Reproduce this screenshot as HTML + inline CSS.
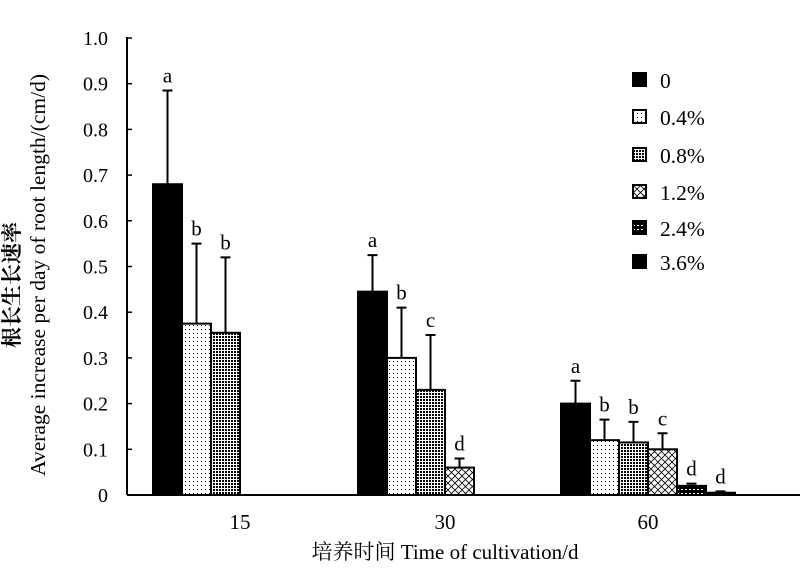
<!DOCTYPE html>
<html><head><meta charset="utf-8"><style>
body{margin:0;background:#fff}
svg text{font-family:"Liberation Serif","Noto Serif CJK SC",serif;fill:#000}
</style></head><body>
<svg id="chart" width="800" height="568" viewBox="0 0 800 568" xmlns="http://www.w3.org/2000/svg">
<defs>
<pattern id="p1" width="4" height="4" patternUnits="userSpaceOnUse"><rect width="4" height="4" fill="#fff"/><rect x="1" y="1" width="1" height="1" fill="#000"/></pattern>
<pattern id="p2" width="3" height="3" patternUnits="userSpaceOnUse"><rect width="3" height="3" fill="#fff"/><rect width="2" height="2" fill="#000"/></pattern>
<pattern id="p3" width="7" height="7" patternUnits="userSpaceOnUse"><rect width="7" height="7" fill="#fff"/><path d="M0 0L7 7M7 0L0 7" stroke="#000" stroke-width="0.8"/></pattern>
<pattern id="p4" width="4" height="4" patternUnits="userSpaceOnUse"><rect width="4" height="4" fill="#000"/><rect x="1" y="1" width="2" height="1" fill="#fff"/></pattern>
<pattern id="p5" width="4" height="4" patternUnits="userSpaceOnUse"><rect width="4" height="4" fill="#000"/></pattern>
</defs>
<g id="axes"></g>
<g id="bars"></g>
<g id="legend"></g>
<text x="14" y="285" font-size="21" font-weight="bold" transform="rotate(-90 14 285)" text-anchor="middle" dominant-baseline="middle">根长生长速率</text>
<text x="40" y="275" font-size="21.5" transform="rotate(-90 40 275)" text-anchor="middle" dominant-baseline="middle">Average increase per day of root length/(cm/d)</text>
<text x="445" y="559" font-size="21" text-anchor="middle">培养时间 Time of cultivation/d</text>
</svg>
<script>
const categories=["15","30","60"];
const seriesNames=["0","0.4%","0.8%","1.2%","2.4%","3.6%"];
const s0=[0.68,0.445,0.2];
const s1=[0.375,0.30,0.12];
const s2=[0.355,0.23,0.115];
const s3=[0,0.06,0.10];
const s4=[0,0,0.02];
const s5=[0,0,0.005];
const e0=[0.885,0.525,0.25];
const e1=[0.55,0.41,0.165];
const e2=[0.52,0.35,0.16];
const e3=[null,0.08,0.135];
const e4=[null,null,0.025];
const e5=[null,null,0.008];
const l0=["a","a","a"];
const l1=["b","b","b"];
const l2=["b","c","b"];
const l3=["","d","c"];
const l4=["","","d"];
const l5=["","","d"];
const yTicks=[0,0.1,0.2,0.3,0.4,0.5,0.6,0.7,0.8,0.9,1.0];
const yTickLabels=["0","0.1","0.2","0.3","0.4","0.5","0.6","0.7","0.8","0.9","1.0"];
const series=[s0,s1,s2,s3,s4,s5], errs=[e0,e1,e2,e3,e4,e5], lets=[l0,l1,l2,l3,l4,l5];
const fills=["#000","url(#p1)","url(#p2)","url(#p3)","url(#p4)","url(#p5)"];
const NS="http://www.w3.org/2000/svg";
const X0=127,Y0=495,YH=457,centers=[240,445,648],BW=29;
const y=v=>Y0-v*YH;
const xg=i=>centers[i];
function mk(t,a,p){const e=document.createElementNS(NS,t);for(const k in a)e.setAttribute(k,a[k]);p.appendChild(e);return e;}
const ax=document.getElementById('axes'),bg=document.getElementById('bars'),lg=document.getElementById('legend');
const yl=mk('line',{x1:X0,y1:y(1)-1,x2:X0,y2:Y0,stroke:'#000','stroke-width':2},ax);

const xl=mk('line',{x1:X0,y1:Y0,x2:800,y2:Y0,stroke:'#000','stroke-width':2},ax);

yTicks.forEach((v,i)=>{
 mk('line',{x1:X0,y1:y(v),x2:X0+5,y2:y(v),stroke:'#000','stroke-width':1.5},ax);
 const t=mk('text',{x:108,y:y(v)+7,'font-size':20,'text-anchor':'end'},ax);t.textContent=yTickLabels[i];
 
});
categories.forEach((c,i)=>{
 const t=mk('text',{x:xg(i),y:529,'font-size':21,'text-anchor':'middle'},ax);t.textContent=c;
 
 series.forEach((s,j)=>{
  const x=xg(i)-87+j*BW,v=s[i];
  if(v>0){const r=mk('rect',{x:x,y:y(v),width:BW,height:Y0-y(v),fill:fills[j],stroke:'#000','stroke-width':2},bg);
   }
  const e=errs[j][i];
  if(e!=null){const cx=x+BW/2;
   const l=mk('path',{d:`M${cx} ${y(v)}V${y(e)}M${cx-5} ${y(e)}H${cx+5}`,stroke:'#000','stroke-width':2,fill:'none'},bg);
   }
  const L=lets[j][i];
  if(L){const t=mk('text',{x:x+BW/2,y:y(e!=null?e:v)-8,'font-size':21,'text-anchor':'middle'},bg);t.textContent=L;
   }
 });
});
const ly=[80,117,155,192,228,262];
seriesNames.forEach((n,j)=>{
 const r=mk('rect',{x:633,y:ly[j]-7,width:13,height:13,fill:fills[j],stroke:'#000','stroke-width':2},lg);
 
 const t=mk('text',{x:660,y:ly[j]+8,'font-size':21.5},lg);t.textContent=n;
 
});
</script>
</body></html>
